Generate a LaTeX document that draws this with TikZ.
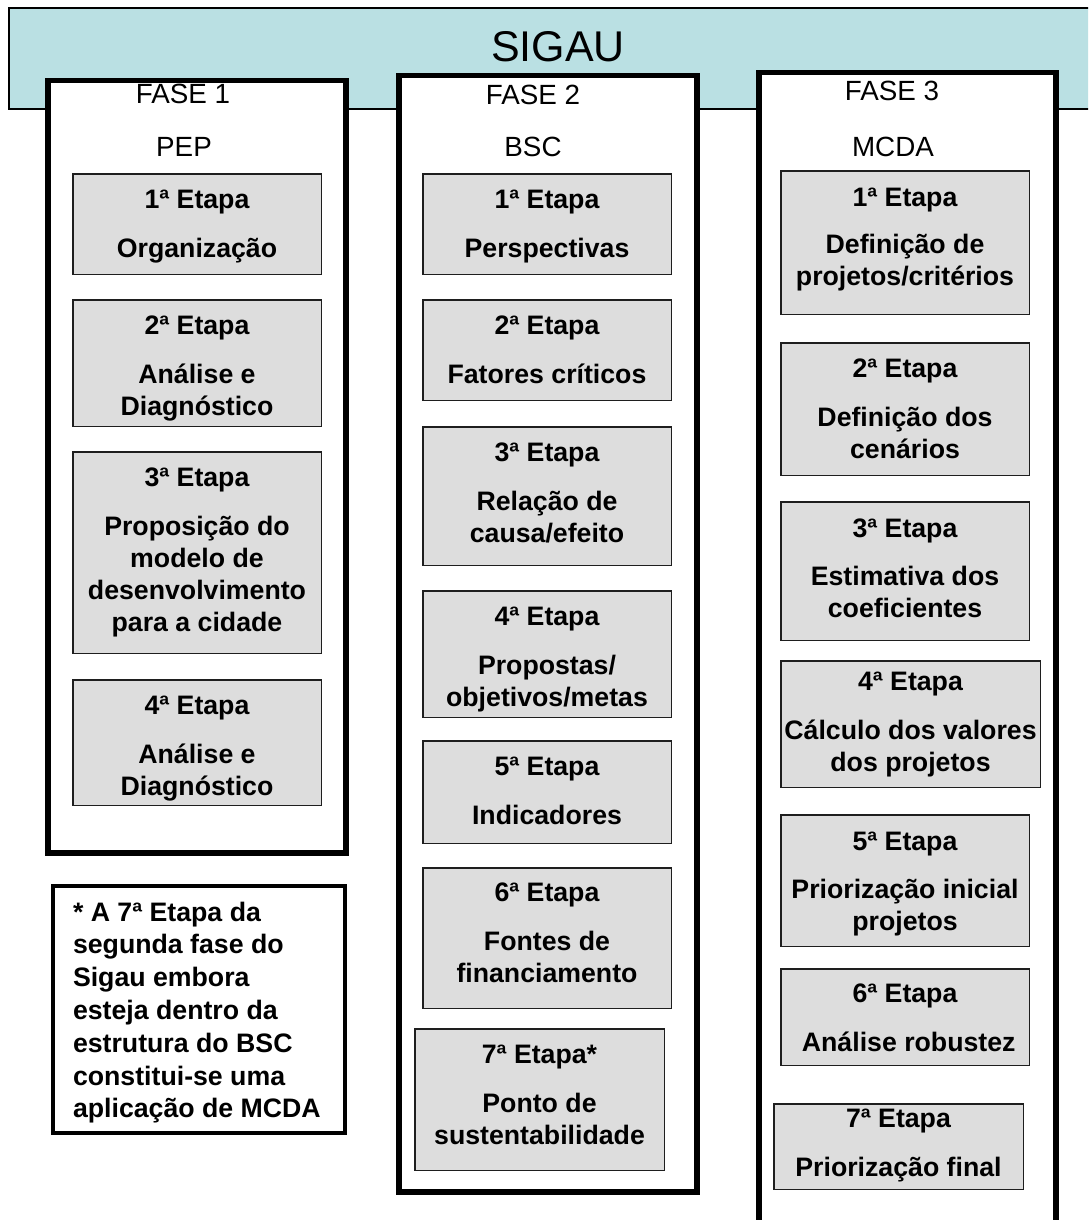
\documentclass[tikz,border=0pt]{standalone}
\usepackage{fontspec}
\setmainfont{Liberation Sans}
\definecolor{bannerblue}{RGB}{186,224,227}
\definecolor{stepgray}{RGB}{221,221,221}
\definecolor{edgegray}{RGB}{30,30,30}
% top-aligned box content: width, height, first-baseline depth, text
\newcommand\steptext[4]{\parbox[c][#2][t]{#1}{\centering\rule{0pt}{#3}#4}}
\begin{document}
\begin{tikzpicture}[x={(1pt,0pt)}, y={(0pt,-1pt)},
  banner/.style={fill=bannerblue, draw=black, line width=1.6pt},
  phasebox/.style={draw=black, fill=white, line width=5.5pt, inner sep=0pt, anchor=north west},
  notebox/.style={draw=black, fill=white, line width=4pt, inner sep=0pt, anchor=north west,
    font=\bfseries\fontsize{26.7}{32.8}\selectfont},
  stepbox/.style={draw=edgegray, fill=stepgray, line width=1.5pt, inner sep=0pt,
    anchor=north west, font=\bfseries\fontsize{26.7}{32}\selectfont},
  phasetitle/.style={anchor=base, inner sep=0pt, font=\fontsize{27.8}{32}\selectfont},
]
\useasboundingbox (0,0) rectangle (1088,1220);
\clip (0,0) rectangle (1088,1220);

% title band running off the right edge
\draw[banner] (9,8) rectangle (1110,109);
\node[anchor=base, inner sep=0pt, font=\fontsize{43}{48}\selectfont] (title) at (558,62) {SIGAU};

% the three phase frames
\node[phasebox, minimum width=298pt, minimum height=772pt] (phase1) at (45,78) {};
\node[phasebox, minimum width=298pt, minimum height=1116pt] (phase2) at (396,73) {};
\node[phasebox, minimum width=297pt, minimum height=1200pt] (phase3) at (756,70) {};

% phase headings
\node[phasetitle] (f1) at (183,104) {FASE 1};
\node[phasetitle] (f1sub) at (184,157) {PEP};
\node[phasetitle] (f2) at (533,105) {FASE 2};
\node[phasetitle] (f2sub) at (533,157) {BSC};
\node[phasetitle] (f3) at (892,101) {FASE 3};
\node[phasetitle] (f3sub) at (893,156) {MCDA};

% phase 1 steps
\node[stepbox] (p1s1) at (72,173)
  {\steptext{248.5pt}{100.5pt}{34.6pt}{1ª Etapa\\[17pt]Organização}};
\node[stepbox] (p1s2) at (72,299)
  {\steptext{248.5pt}{126.5pt}{34.6pt}{2ª Etapa\\[17pt]Análise e\\Diagnóstico}};
\node[stepbox] (p1s3) at (72,451)
  {\steptext{248.5pt}{201.5pt}{34.6pt}{3ª Etapa\\[17pt]Proposição do\\modelo de\\desenvolvimento\\para a cidade}};
\node[stepbox] (p1s4) at (72,679)
  {\steptext{248.5pt}{125.5pt}{34.6pt}{4ª Etapa\\[17pt]Análise e\\Diagnóstico}};

% phase 2 steps
\node[stepbox] (p2s1) at (422,173)
  {\steptext{248.5pt}{100.5pt}{34.6pt}{1ª Etapa\\[17pt]Perspectivas}};
\node[stepbox] (p2s2) at (422,299)
  {\steptext{248.5pt}{100.5pt}{34.6pt}{2ª Etapa\\[17pt]Fatores críticos}};
\node[stepbox] (p2s3) at (422,426)
  {\steptext{248.5pt}{138.5pt}{34.6pt}{3ª Etapa\\[17pt]Relação de\\causa/efeito}};
\node[stepbox] (p2s4) at (422,590)
  {\steptext{248.5pt}{126.5pt}{34.6pt}{4ª Etapa\\[17pt]Propostas/\\objetivos/metas}};
\node[stepbox] (p2s5) at (422,740)
  {\steptext{248.5pt}{102.5pt}{34.6pt}{5ª Etapa\\[17pt]Indicadores}};
\node[stepbox] (p2s6) at (422,867)
  {\steptext{248.5pt}{140.5pt}{33.6pt}{6ª Etapa\\[17pt]Fontes de\\financiamento}};
\node[stepbox] (p2s7) at (414,1028)
  {\steptext{249.5pt}{141.5pt}{34.6pt}{7ª Etapa*\\[17pt]Ponto de\\sustentabilidade}};

% phase 3 steps
\node[stepbox] (p3s1) at (780,170)
  {\steptext{248.5pt}{143.5pt}{35.6pt}{1ª Etapa\\[15pt]Definição de\\projetos/critérios}};
\node[stepbox] (p3s2) at (780,342)
  {\steptext{248.5pt}{132.5pt}{34.6pt}{2ª Etapa\\[17pt]Definição dos\\cenários}};
\node[stepbox] (p3s3) at (780,501)
  {\steptext{248.5pt}{138.5pt}{35.6pt}{3ª Etapa\\[16pt]Estimativa dos\\coeficientes}};
\node[stepbox] (p3s4) at (780,660)
  {\steptext{259.5pt}{126.5pt}{30pt}{4ª Etapa\\[17pt]Cálculo dos valores\\dos projetos}};
\node[stepbox] (p3s5) at (780,814)
  {\steptext{248.5pt}{131.5pt}{35.6pt}{5ª Etapa\\[16pt]Priorização inicial\\projetos}};
\node[stepbox] (p3s6) at (780,968)
  {\steptext{248.5pt}{96.5pt}{33.6pt}{6ª Etapa\\[17pt]\ Análise robustez}};
\node[stepbox] (p3s7) at (773,1103)
  {\steptext{249.5pt}{85.5pt}{23.6pt}{7ª Etapa\\[17pt]Priorização final}};

% footnote on the seventh step of phase 2
\node[notebox] (note) at (51,884)
  {\parbox[c][247pt][t]{292pt}{\raggedright\leftskip=20pt\rule{0pt}{35pt}%
   * A 7ª Etapa da\\segunda fase do\\Sigau embora\\esteja dentro da\\estrutura do BSC\\constitui-se uma\\aplicação de MCDA}};
\end{tikzpicture}
\end{document}
